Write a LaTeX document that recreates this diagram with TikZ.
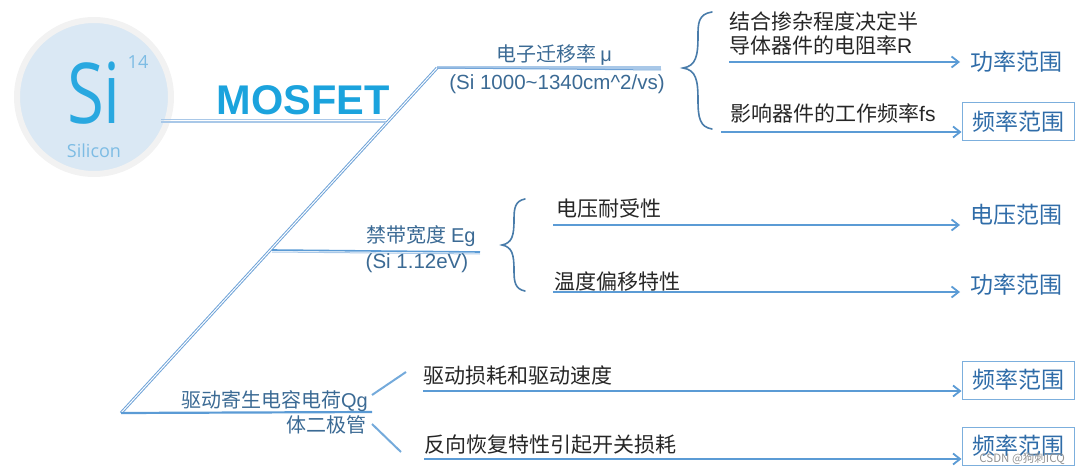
\documentclass[tikz,border=0pt]{standalone}
\usepackage{fontspec}
\setmainfont{Liberation Sans}
\newfontfamily\cjk{Noto Sans CJK SC}
\newfontfamily\opensans{Open Sans}
\usetikzlibrary{arrows.meta}
\definecolor{linec}{HTML}{5B9BD5}
\definecolor{dblc}{HTML}{6FA3D8}
\definecolor{stemc}{HTML}{A9C8E8}
\definecolor{bluetxt}{HTML}{2F6CA8}
\definecolor{hdrtxt}{HTML}{3B6A94}
\definecolor{brandc}{HTML}{1BA3DD}
\definecolor{sic}{HTML}{29A8E0}
\definecolor{silc}{HTML}{7DBCE4}
\definecolor{disc}{HTML}{DAE8F4}
\definecolor{rimc}{HTML}{F2F2F2}
\tikzset{
  x=1pt,y=-1pt,
  blk/.style={font=\cjk\fontsize{21}{21}\selectfont,text=black!85,anchor=base west,inner sep=0pt},
  hdr/.style={font=\cjk\fontsize{20}{20}\selectfont,text=hdrtxt,inner sep=0pt},
  sub/.style={font=\fontsize{20.5}{20.5}\selectfont,text=hdrtxt,inner sep=0pt},
  res/.style={font=\cjk\fontsize{23}{23}\selectfont,text=bluetxt,inner sep=0pt,minimum width=112pt,minimum height=38pt},
  resbox/.style={res,draw=linec!80,line width=1pt},
  arr/.style={draw=linec,line width=1.8pt,-{Straight Barb[length=7pt,width=11pt,line width=1.8pt]}},
  dbl/.style={draw=dblc,double=white,double distance=1pt,line width=1pt},
  spur/.style={draw=linec!85,line width=2pt},
  bracec/.style={draw=linec!80!black,line width=1.6pt,line cap=round}
}
\begin{document}
\begin{tikzpicture}
\useasboundingbox (0,0) rectangle (1080,476);
% element tile
\node[circle,draw=rimc,fill=disc,line width=6pt,minimum size=154pt,inner sep=0pt] (tile) at (94,97) {};
\node[font=\opensans\fontsize{84}{84}\selectfont,text=sic,xscale=0.8,inner sep=0pt] (si) at (94,93) {Si};
\node[font=\opensans\fontsize{18}{18}\selectfont,text=silc,inner sep=0pt] (num) at (138,62) {14};
\node[font=\opensans\fontsize{18}{18}\selectfont,text=silc,inner sep=0pt] (silicon) at (94,151) {Silicon};
\node[font=\bfseries\fontsize{41.5}{41.5}\selectfont,text=brandc,inner sep=0pt] (mosfet) at (303,100) {MOSFET};
% spine
\coordinate (root) at (121,413);
\coordinate (knee) at (437,68);
\coordinate (a1) at (661,68);
\coordinate (s1) at (161,122);
\coordinate (s2) at (386,122);
\coordinate (b0) at (272,250);
\coordinate (b1) at (480,252);
\coordinate (c1) at (372,412);
\draw[dbl] (root) -- (knee);
\draw[draw=stemc,line width=3pt] (a1) -- (knee);
\draw[draw=dblc,line width=1pt] (knee) -- (a1|-0,70);
\draw[draw=stemc,line width=2.5pt] (s1) -- (s2);
\draw[draw=stemc,line width=.8pt] ([yshift=2.5pt]s1) -- ([yshift=2.5pt]s2);
\draw[draw=linec,line width=1.6pt] (b0) -- (b1);
\draw[draw=stemc,line width=1pt] ([yshift=-2pt]b0) -- ([yshift=-2pt]b1);
\draw[draw=linec,line width=2.2pt] (root) -- (c1);
% branch labels
\node[hdr,anchor=base] (mu) at (554,62) {电子迁移率 {\fontspec{Liberation Sans}μ}};
\node[sub,anchor=base] (mus) at (557,90) {(Si 1000\textasciitilde1340cm\textasciicircum2/vs)};
\node[hdr,anchor=base] (eg) at (421,243) {禁带宽度 {\fontspec{Liberation Sans}Eg}};
\node[sub,anchor=base] (egs) at (417,269) {(Si 1.12eV)};
\node[hdr,anchor=base east] (qg) at (368,407) {驱动寄生电容电荷{\fontspec{Liberation Sans}Qg}};
\node[hdr,anchor=base east] (diode) at (367,432) {体二极管};
% spurs
\coordinate (sp1a) at (372,395);
\coordinate (sp1b) at (406,372);
\coordinate (sp2a) at (372,424);
\coordinate (sp2b) at (401,452);
\draw[spur] (sp1a) -- (sp1b);
\draw[spur] (sp2a) -- (sp2b);
% braces
\coordinate (bt1) at (712,12);
\coordinate (bm1) at (683,68);
\coordinate (bb1) at (712,129);
\draw[bracec] (bt1) .. controls (698,14) and (698,24) .. (698,36) .. controls (698,56) and (696,66) .. (bm1) .. controls (696,70) and (698,80) .. (698,100) .. controls (698,118) and (700,127) .. (bb1);
\coordinate (bt2) at (525,199);
\coordinate (bm2) at (502,245);
\coordinate (bb2) at (525,291);
\draw[bracec] (bt2) .. controls (515,201) and (514,208) .. (514,220) .. controls (514,236) and (512,243) .. (bm2) .. controls (512,247) and (514,254) .. (514,270) .. controls (514,282) and (515,289) .. (bb2);
% leaf text
\node[blk] (l1) at (729,30) {结合掺杂程度决定半};
\node[blk] (l1b) at (729,54) {导体器件的电阻率{\fontspec{Liberation Sans}R}};
\node[blk] (l2) at (730,122) {影响器件的工作频率{\fontspec{Liberation Sans}fs}};
\node[blk] (l3) at (556,217) {电压耐受性};
\node[blk] (l4) at (554,289) {温度偏移特性};
\node[blk] (l5) at (423,383) {驱动损耗和驱动速度};
\node[blk] (l6) at (424,452) {反向恢复特性引起开关损耗};
% result nodes
\node[res] (r1) at (1016,62) {功率范围};
\node[resbox] (r2) at (1018,122) {频率范围};
\node[res] (r3) at (1016,215) {电压范围};
\node[res] (r4) at (1016,285) {功率范围};
\node[resbox] (r5) at (1018,380) {频率范围};
\node[resbox] (r6) at (1018,446) {频率范围};
% arrows
\coordinate (a1s) at (729,62);
\coordinate (a2s) at (721,132);
\coordinate (a3s) at (553,225);
\coordinate (a4s) at (553,292);
\coordinate (a5s) at (423,391);
\coordinate (a6s) at (424,459);
\coordinate (a1e) at (960,62);
\coordinate (a3e) at (960,225);
\coordinate (a4e) at (960,292);
\draw[arr] (a1s) -- (a1e);
\draw[arr] (a2s) -- (a2s-|r2.west);
\draw[arr] (a3s) -- (a3e);
\draw[arr] (a4s) -- (a4e);
\draw[arr] (a5s) -- (a5s-|r5.west);
\draw[arr] (a6s) -- (a6s-|r6.west);
% watermark
\node[font=\cjk\fontsize{11.5}{11.5}\selectfont,text=gray!85,inner sep=0pt,anchor=east] (wm) at (1065,459) {CSDN @狗刺ICQ};
\end{tikzpicture}
\end{document}
